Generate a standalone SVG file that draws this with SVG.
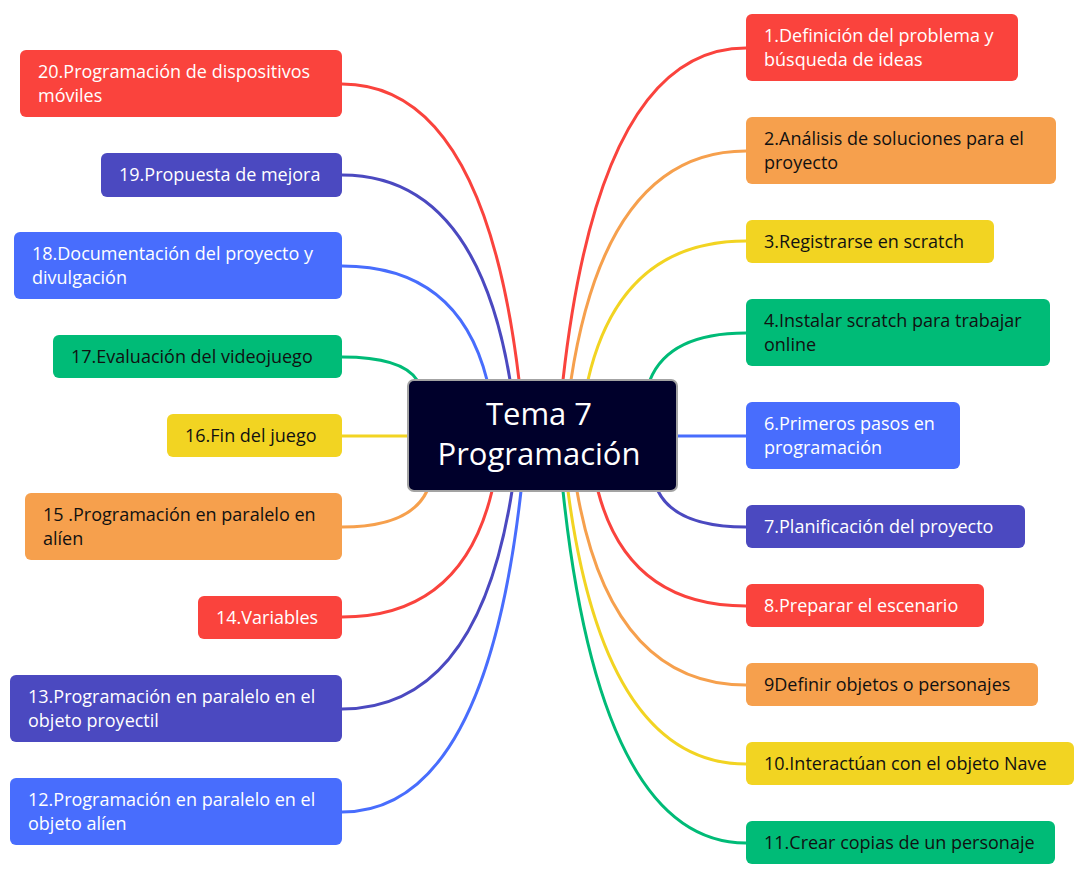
<svg xmlns="http://www.w3.org/2000/svg" width="1091" height="879" viewBox="0 0 1091 879">
<style>
.bg{fill:#ffffff}
.c{fill:none;stroke-width:3;stroke-linecap:round}
.t{font-family:"Open Sans","Liberation Sans",sans-serif;font-size:18px}
.w{fill:#ffffff}
.k{fill:#111111}
.red{fill:#fa433d}.ora{fill:#f6a04d}.yel{fill:#f2d422}.gre{fill:#00bb77}.blu{fill:#486dfd}.dbl{fill:#4b49c0}
.sred{stroke:#fa433d}.sora{stroke:#f6a04d}.syel{stroke:#f2d422}.sgre{stroke:#00bb77}.sblu{stroke:#486dfd}.sdbl{stroke:#4b49c0}
.center{fill:#00002b;stroke:#a3a3a3;stroke-width:2}
.ct{font-family:"Open Sans","Liberation Sans",sans-serif;font-size:31px;fill:#ffffff;text-anchor:middle}
</style>
<rect class="bg" x="0" y="0" width="1091" height="879"/>
<g id="connectors">
<path class="c sred" d="M519 380 Q484 84 342 84"/>
<path class="c sdbl" d="M510 380 Q476 175 342 175"/>
<path class="c sblu" d="M487 380 Q458 266 342 266"/>
<path class="c sgre" d="M417 380 Q402 357 342 357"/>
<path class="c syel" d="M407 436 L342 436"/>
<path class="c sora" d="M427 491 Q410 527 342 527"/>
<path class="c sred" d="M492 491 Q462 617 342 617"/>
<path class="c sdbl" d="M512 491 Q478 709 342 709"/>
<path class="c sblu" d="M521 491 Q485 812 342 812"/>
<path class="c sred" d="M563 380 Q600 48 746 48"/>
<path class="c sora" d="M571 380 Q606 151 746 151"/>
<path class="c syel" d="M588 380 Q620 241 746 241"/>
<path class="c sgre" d="M650 380 Q669 333 746 333"/>
<path class="c sblu" d="M678 436 L746 436"/>
<path class="c sdbl" d="M658 491 Q676 527 746 527"/>
<path class="c sred" d="M598 491 Q628 606 746 606"/>
<path class="c sora" d="M577 491 Q611 685 746 685"/>
<path class="c syel" d="M568 491 Q604 764 746 764"/>
<path class="c sgre" d="M563 491 Q600 843 746 843"/>
</g>
<g id="center">
<rect class="center" x="408" y="380" width="269" height="111" rx="6"/>
<text class="ct" x="539" y="425">Tema 7</text>
<text class="ct" x="539" y="465">Programación</text>
</g>
<g id="n20"><rect class="red" x="20" y="50" width="322" height="67" rx="6"/><text class="t w" x="38" y="78">20.Programación de dispositivos</text><text class="t w" x="38" y="102">móviles</text></g>
<g id="n19"><rect class="dbl" x="101" y="153" width="241" height="44" rx="6"/><text class="t w" x="119" y="181">19.Propuesta de mejora</text></g>
<g id="n18"><rect class="blu" x="14" y="232" width="328" height="67" rx="6"/><text class="t w" x="32" y="260">18.Documentación del proyecto y</text><text class="t w" x="32" y="284">divulgación</text></g>
<g id="n17"><rect class="gre" x="53" y="335" width="289" height="43" rx="6"/><text class="t k" x="71" y="363">17.Evaluación del videojuego</text></g>
<g id="n16"><rect class="yel" x="167" y="414" width="175" height="43" rx="6"/><text class="t k" x="185" y="442">16.Fin del juego</text></g>
<g id="n15"><rect class="ora" x="25" y="493" width="317" height="67" rx="6"/><text class="t k" x="43" y="521">15 .Programación en paralelo en</text><text class="t k" x="43" y="545">alíen</text></g>
<g id="n14"><rect class="red" x="198" y="596" width="144" height="43" rx="6"/><text class="t w" x="216" y="624">14.Variables</text></g>
<g id="n13"><rect class="dbl" x="10" y="675" width="332" height="67" rx="6"/><text class="t w" x="28" y="703">13.Programación en paralelo en el</text><text class="t w" x="28" y="727">objeto proyectil</text></g>
<g id="n12"><rect class="blu" x="10" y="778" width="332" height="67" rx="6"/><text class="t w" x="28" y="806">12.Programación en paralelo en el</text><text class="t w" x="28" y="830">objeto alíen</text></g>
<g id="n1"><rect class="red" x="746" y="14" width="272" height="67" rx="6"/><text class="t w" x="764" y="42">1.Definición del problema y</text><text class="t w" x="764" y="66">búsqueda de ideas</text></g>
<g id="n2"><rect class="ora" x="746" y="117" width="310" height="67" rx="6"/><text class="t k" x="764" y="145">2.Análisis de soluciones para el</text><text class="t k" x="764" y="169">proyecto</text></g>
<g id="n3"><rect class="yel" x="746" y="220" width="248" height="43" rx="6"/><text class="t k" x="764" y="248">3.Registrarse en scratch</text></g>
<g id="n4"><rect class="gre" x="746" y="299" width="304" height="67" rx="6"/><text class="t k" x="764" y="327">4.Instalar scratch para trabajar</text><text class="t k" x="764" y="351">online</text></g>
<g id="n6"><rect class="blu" x="746" y="402" width="214" height="67" rx="6"/><text class="t w" x="764" y="430">6.Primeros pasos en</text><text class="t w" x="764" y="454">programación</text></g>
<g id="n7"><rect class="dbl" x="746" y="505" width="279" height="43" rx="6"/><text class="t w" x="764" y="533">7.Planificación del proyecto</text></g>
<g id="n8"><rect class="red" x="746" y="584" width="238" height="43" rx="6"/><text class="t w" x="764" y="612">8.Preparar el escenario</text></g>
<g id="n9"><rect class="ora" x="746" y="663" width="292" height="43" rx="6"/><text class="t k" x="764" y="691">9Definir objetos o personajes</text></g>
<g id="n10"><rect class="yel" x="746" y="742" width="328" height="43" rx="6"/><text class="t k" x="764" y="770">10.Interactúan con el objeto Nave</text></g>
<g id="n11"><rect class="gre" x="746" y="821" width="309" height="43" rx="6"/><text class="t k" x="764" y="849">11.Crear copias de un personaje</text></g>
</svg>
